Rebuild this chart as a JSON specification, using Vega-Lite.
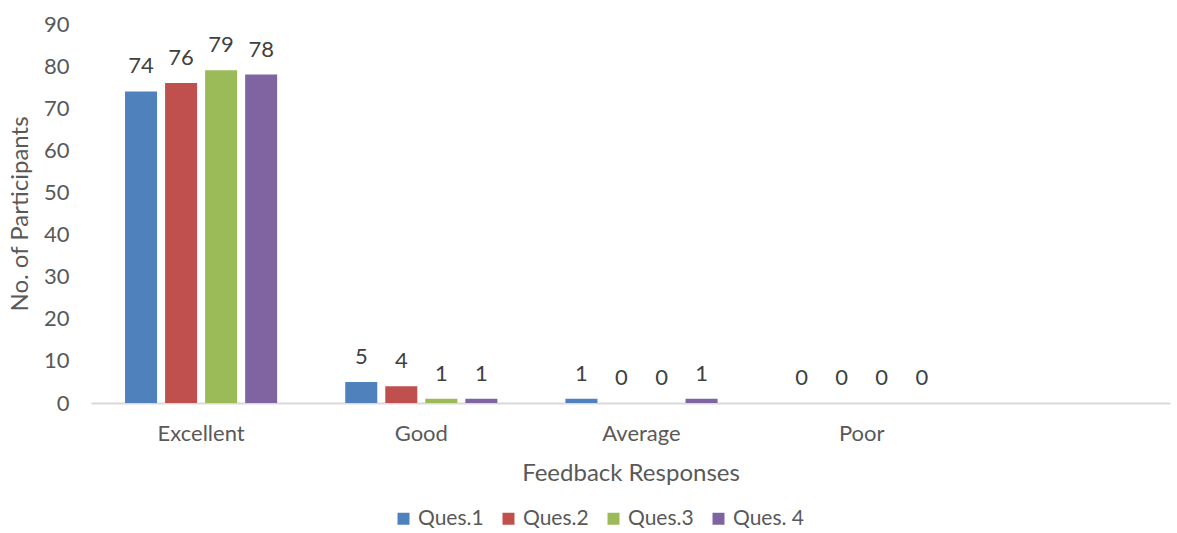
{
  "$schema": "https://vega.github.io/schema/vega-lite/v6.json",
  "width": 1079,
  "height": 379,
  "autosize": "none",
  "padding": {"left": 91, "top": 24, "right": 7, "bottom": 130},
  "background": "white",
  "config": {
    "view": {"stroke": null},
    "font": "Lato",
    "axis": {"labelFont": "Lato", "titleFont": "Lato", "labelColor": "#595959", "titleColor": "#595959", "titleFontWeight": "normal", "grid": false, "ticks": false},
    "legend": {"labelFont": "Lato", "labelColor": "#595959"}
  },
  "data": {
    "values": [
      {"resp": "Excellent", "q": "Ques.1", "n": 74},
      {"resp": "Excellent", "q": "Ques.2", "n": 76},
      {"resp": "Excellent", "q": "Ques.3", "n": 79},
      {"resp": "Excellent", "q": "Ques. 4", "n": 78},
      {"resp": "Good", "q": "Ques.1", "n": 5},
      {"resp": "Good", "q": "Ques.2", "n": 4},
      {"resp": "Good", "q": "Ques.3", "n": 1},
      {"resp": "Good", "q": "Ques. 4", "n": 1},
      {"resp": "Average", "q": "Ques.1", "n": 1},
      {"resp": "Average", "q": "Ques.2", "n": 0},
      {"resp": "Average", "q": "Ques.3", "n": 0},
      {"resp": "Average", "q": "Ques. 4", "n": 1},
      {"resp": "Poor", "q": "Ques.1", "n": 0},
      {"resp": "Poor", "q": "Ques.2", "n": 0},
      {"resp": "Poor", "q": "Ques.3", "n": 0},
      {"resp": "Poor", "q": "Ques. 4", "n": 0}
    ]
  },
  "encoding": {
    "x": {
      "field": "resp",
      "type": "nominal",
      "sort": ["Excellent", "Good", "Average", "Poor"],
      "scale": {"paddingInner": 0, "paddingOuter": 0.45, "align": 0},
      "axis": {
        "title": "Feedback Responses",
        "titleFontSize": 24,
        "titlePadding": 17,
        "labelAngle": 0,
        "labelFontSize": 22,
        "labelPadding": 20,
        "domainColor": "#D9D9D9",
        "domainWidth": 2
      }
    },
    "xOffset": {
      "field": "q",
      "type": "nominal",
      "sort": ["Ques.1", "Ques.2", "Ques.3", "Ques. 4"],
      "scale": {"paddingInner": 0.2, "paddingOuter": 0.85}
    },
    "y": {
      "field": "n",
      "type": "quantitative",
      "scale": {"domain": [0, 90]},
      "axis": {
        "title": "No. of Participants",
        "titleFontSize": 24,
        "titlePadding": 11,
        "labelFontSize": 22,
        "labelPadding": 22,
        "labelOverlap": false,
        "values": [0, 10, 20, 30, 40, 50, 60, 70, 80, 90],
        "domain": false
      }
    }
  },
  "layer": [
    {
      "mark": {"type": "bar"},
      "encoding": {
        "color": {
          "field": "q",
          "type": "nominal",
          "sort": ["Ques.1", "Ques.2", "Ques.3", "Ques. 4"],
          "scale": {"range": ["#4F81BD", "#C0504D", "#9BBB59", "#8064A2"]},
          "legend": {
            "title": null,
            "orient": "none",
            "legendX": 302,
            "legendY": 484,
            "direction": "horizontal",
            "columns": 4,
            "symbolType": "square",
            "symbolSize": 144,
            "symbolStrokeWidth": 0,
            "labelFontSize": 21,
            "labelOffset": 4,
            "columnPadding": 14,
            "padding": 0
          }
        }
      }
    },
    {
      "mark": {"type": "text", "baseline": "middle", "dy": -25, "fontSize": 22, "color": "#404040", "font": "Lato"},
      "encoding": {
        "text": {"field": "n", "type": "quantitative"}
      }
    }
  ]
}
